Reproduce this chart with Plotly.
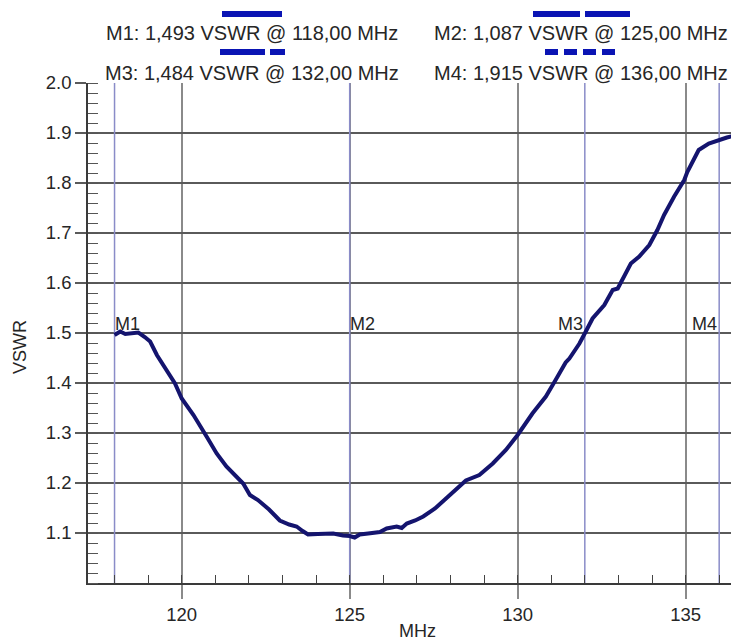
import plotly.graph_objects as go

# ---- data ----
freq_mhz = [118.00, 118.17, 118.32, 118.50, 118.71, 118.90, 119.06, 119.26, 119.55, 119.80,
            120.00, 120.35, 120.74, 121.04, 121.33, 121.60, 121.83, 122.03, 122.27, 122.60,
            122.92, 123.20, 123.42, 123.60, 123.76, 124.05, 124.31, 124.51, 124.80, 125.00,
            125.15, 125.30, 125.55, 125.90, 126.10, 126.40, 126.55, 126.70, 126.95, 127.19,
            127.54, 127.97, 128.20, 128.46, 128.86, 129.26, 129.65, 130.00, 130.44, 130.84,
            131.13, 131.43, 131.54, 131.84, 132.03, 132.23, 132.58, 132.83, 132.98, 133.13,
            133.37, 133.62, 133.92, 134.16, 134.36, 134.66, 134.96, 135.05, 135.39, 135.69,
            135.99, 136.23, 136.53]
vswr = [1.496, 1.503, 1.498, 1.499, 1.501, 1.492, 1.483, 1.456, 1.426, 1.399,
        1.369, 1.336, 1.293, 1.259, 1.233, 1.215, 1.199, 1.176, 1.166, 1.147,
        1.125, 1.117, 1.113, 1.104, 1.097, 1.098, 1.099, 1.099, 1.095, 1.094,
        1.091, 1.097, 1.099, 1.102, 1.109, 1.113, 1.110, 1.119, 1.125, 1.133,
        1.149, 1.176, 1.190, 1.205, 1.216, 1.239, 1.266, 1.296, 1.339, 1.373,
        1.406, 1.441, 1.449, 1.479, 1.503, 1.529, 1.556, 1.586, 1.589, 1.609,
        1.639, 1.653, 1.676, 1.706, 1.736, 1.773, 1.806, 1.822, 1.866, 1.879,
        1.886, 1.891, 1.896]

marker_names = ["M1", "M2", "M3", "M4"]
marker_freq = [118.0, 125.0, 132.0, 136.0]
marker_vswr_text = ["1,493", "1,087", "1,484", "1,915"]
marker_freq_text = ["118,00", "125,00", "132,00", "136,00"]

x_ticks = [120, 125, 130, 135]
y_ticks = [1.1, 1.2, 1.3, 1.4, 1.5, 1.6, 1.7, 1.8, 1.9, 2.0]
y_tick_text = ["1.1", "1.2", "1.3", "1.4", "1.5", "1.6", "1.7", "1.8", "1.9", "2.0"]

FONT = "Liberation Sans, Arial, sans-serif"
TXT = "#262626"
OFF = 8  # page body margin offset
W, H = 739 - OFF, 640 - OFF
L, R, T, B = 88 - OFF, 0, 83 - OFF, 640 - 583
PW, PH = W - L - R, H - T - B

def px(xp):
    return (xp - OFF - L) / PW

def py(yp):
    return (H - B - (yp - OFF)) / PH

fig = go.Figure()

# marker vertical lines
for f in marker_freq:
    fig.add_trace(go.Scatter(x=[f, f], y=[1.0, 2.0], mode="lines",
                             line=dict(color="#8a8cc8", width=1.5),
                             hoverinfo="skip", showlegend=False))

# curve
fig.add_trace(go.Scatter(x=freq_mhz, y=vswr, mode="lines",
                         line=dict(color="#14146e", width=4),
                         showlegend=False))

anns = []
# marker labels
anchors = ["left", "left", "right", "right"]
for name, f, a in zip(marker_names, marker_freq, anchors):
    anns.append(dict(x=f, y=1.5, xref="x", yref="y", text=name, showarrow=False,
                     xanchor=a, yanchor="bottom", xshift=-2 if a == "left" else 0,
                     yshift=-3,
                     font=dict(family=FONT, size=18, color=TXT)))

# legend texts
legend_cx = [252, 581, 252, 581]
legend_cy = [33, 33, 73, 73]
for i in range(4):
    anns.append(dict(x=px(legend_cx[i]), y=py(legend_cy[i]), xref="paper", yref="paper",
                     text=f"{marker_names[i]}: {marker_vswr_text[i]} VSWR @ {marker_freq_text[i]} MHz",
                     showarrow=False, xanchor="center", yanchor="middle",
                     font=dict(family=FONT, size=20, color=TXT)))

# axis titles
anns.append(dict(x=px(20), y=py(347), xref="paper", yref="paper", text="VSWR",
                 textangle=-90, showarrow=False, xanchor="center", yanchor="middle",
                 font=dict(family=FONT, size=18, color=TXT)))
anns.append(dict(x=px(417), y=py(631), xref="paper", yref="paper", text="MHz",
                 showarrow=False, xanchor="center", yanchor="middle",
                 font=dict(family=FONT, size=18, color=TXT)))

# legend line samples
BLUE = "#0a14b4"
samples = [
    (222, 282, 14, "solid"),
    (533, 630, 14, "47px,5px"),
    (220, 285, 52, "45px,5px,15px,100px"),
    (545, 617, 52, "13px,6px"),
]
shapes = []
for x0, x1, yy, dash in samples:
    shapes.append(dict(type="line", xref="paper", yref="paper",
                       x0=px(x0), x1=px(x1), y0=py(yy), y1=py(yy),
                       line=dict(color=BLUE, width=6, dash=dash)))

fig.update_layout(
    width=W, height=H,
    margin=dict(l=L, r=R, t=T, b=B, autoexpand=False),
    paper_bgcolor="white", plot_bgcolor="white",
    font=dict(family=FONT, size=18, color=TXT),
    annotations=anns, shapes=shapes,
    showlegend=False,
    xaxis=dict(range=[117.21, 136.59], tickmode="array", tickvals=x_ticks,
               ticks="outside", ticklen=14, tickcolor="#8a8a8a", tickwidth=1.5,
               showgrid=True, gridcolor="#8a8a8a", gridwidth=1.5,
               showline=True, linecolor="#3a3a3a", linewidth=1.5,
               zeroline=False,
               minor=dict(ticks="inside", ticklen=8, dtick=1, tick0=117,
                          tickcolor="#444444", tickwidth=1.2, showgrid=False),
               tickfont=dict(family=FONT, size=18.5, color=TXT)),
    yaxis=dict(range=[1.0, 2.0], tickmode="array", tickvals=y_ticks, ticktext=y_tick_text,
               ticks="outside", ticklen=11, tickcolor="#5a5a5a", tickwidth=1.5,
               showgrid=True, gridcolor="#5a5a5a", gridwidth=1.5,
               showline=True, linecolor="#3a3a3a", linewidth=1.5,
               zeroline=False,
               minor=dict(ticks="inside", ticklen=10, dtick=0.02, tick0=1.0,
                          tickcolor="#555555", tickwidth=1.2, showgrid=False),
               tickfont=dict(family=FONT, size=18.5, color=TXT)),
)

fig.write_html("out.html")
